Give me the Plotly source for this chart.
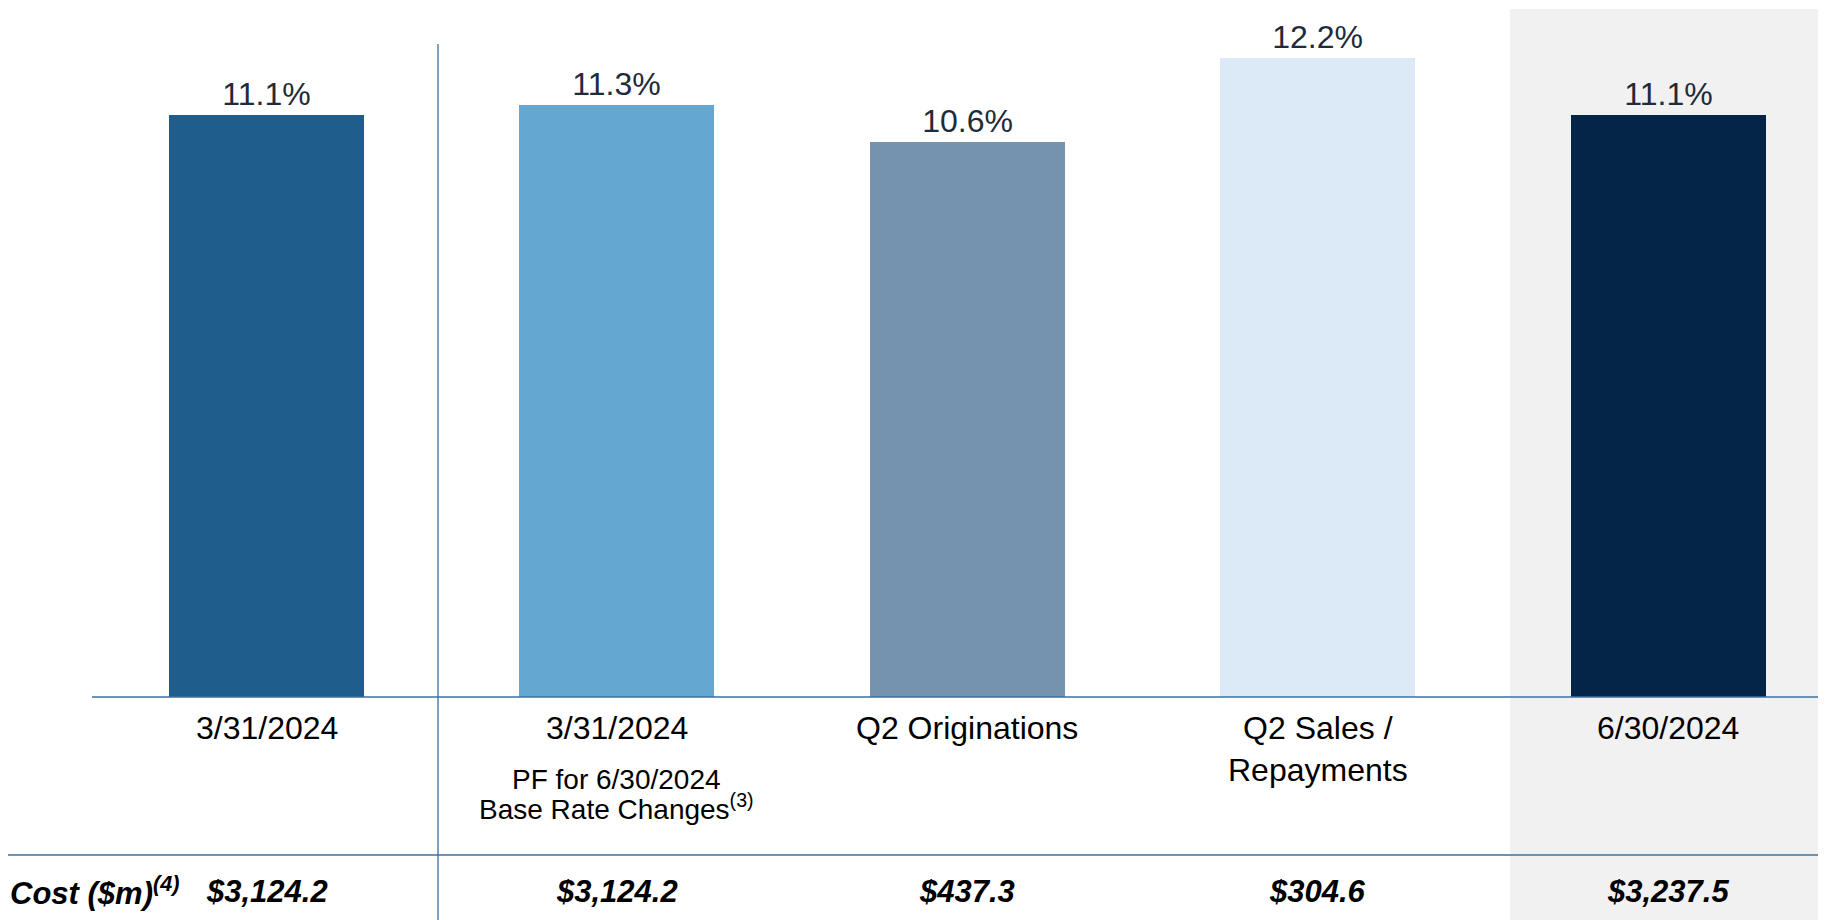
import plotly.graph_objects as go

# ---- data ----
categories = ["3/31/2024", "3/31/2024", "Q2 Originations", "Q2 Sales /<br>Repayments", "6/30/2024"]
yield_pct = [11.1, 11.3, 10.6, 12.2, 11.1]
bar_colors = ["#1F5D8C", "#64A8D1", "#7593AF", "#DCEAF8", "#042448"]
cost_labels = ["$3,124.2", "$3,124.2", "$437.3", "$304.6", "$3,237.5"]
subtitle_lines = ["PF for 6/30/2024", "Base Rate Changes<sup>(3)</sup>"]
cost_title = "Cost ($m)<sup>(4)</sup>"

OFF = 8  # page body margin
W, H = 1826 - OFF, 920 - OFF
FONT = "Arial, 'Liberation Sans', sans-serif"
LINE = "#3D6F9F"

x_idx = list(range(len(categories)))

fig = go.Figure()
fig.add_trace(go.Bar(
    x=x_idx, y=yield_pct,
    marker=dict(color=bar_colors, line=dict(width=0)),
    width=0.556,
    text=[f"{v:.1f}%" for v in yield_pct],
    textposition="outside",
    textfont=dict(family=FONT, size=32, color="#1E2B3A"),
    cliponaxis=False,
    hoverinfo="skip",
))

annotations = []
for i, c in enumerate(categories):
    annotations.append(dict(
        x=i, y=0, xref="x", yref="y", text=c, showarrow=False,
        xanchor="center", yanchor="top", yshift=-11,
        font=dict(family=FONT, size=32, color="#000000"),
    ))
for j, line in enumerate(subtitle_lines):
    annotations.append(dict(
        x=1, y=0, xref="x", yref="y", text=line, showarrow=False,
        xanchor="center", yanchor="middle", yshift=-(82 + 28 * j),
        font=dict(family=FONT, size=28, color="#000000"),
    ))
for i, c in enumerate(cost_labels):
    annotations.append(dict(
        x=i, y=0, xref="x", yref="y", text=f"<b><i>{c}</i></b>", showarrow=False,
        xanchor="center", yanchor="middle", yshift=-194,
        font=dict(family=FONT, size=31, color="#000000"),
    ))
annotations.append(dict(
    x=0, y=0, xref="paper", yref="y", text=f"<b><i>{cost_title}</i></b>", showarrow=False,
    xanchor="left", yanchor="middle", yshift=-194,
    font=dict(family=FONT, size=31, color="#000000"),
))

plot_h = 697 - OFF
def px_to_paper_y(py):
    return (plot_h - (py - OFF)) / plot_h
def px_to_paper_x(px):
    return (px - OFF) / W

shapes = [
    dict(type="rect", xref="paper", yref="paper", x0=px_to_paper_x(1510), x1=1.0,
         y0=px_to_paper_y(925), y1=px_to_paper_y(9),
         fillcolor="#F1F1F1", line=dict(width=0), layer="below"),
    dict(type="line", xref="paper", yref="paper", x0=px_to_paper_x(92), x1=1.0,
         y0=px_to_paper_y(697), y1=px_to_paper_y(697),
         line=dict(color=LINE, width=1.6)),
    dict(type="line", xref="paper", yref="paper", x0=0, x1=1.0,
         y0=px_to_paper_y(855), y1=px_to_paper_y(855),
         line=dict(color=LINE, width=1.6)),
    dict(type="line", xref="paper", yref="paper", x0=px_to_paper_x(438), x1=px_to_paper_x(438),
         y0=px_to_paper_y(925), y1=px_to_paper_y(44),
         line=dict(color=LINE, width=1.3)),
]

px_per_cat = 350.4
x_left = -(266.5 - OFF) / px_per_cat
x_right = x_left + W / px_per_cat

fig.update_layout(
    width=W, height=H,
    margin=dict(l=0, r=0, t=0, b=H - plot_h, pad=0),
    paper_bgcolor="white", plot_bgcolor="rgba(0,0,0,0)",
    showlegend=False,
    xaxis=dict(range=[x_left, x_right], showticklabels=False, showgrid=False,
               zeroline=False, showline=False, ticks=""),
    yaxis=dict(range=[0, plot_h / 52.4], showticklabels=False, showgrid=False,
               zeroline=False, showline=False, ticks=""),
    annotations=annotations,
    shapes=shapes,
    bargap=0,
)

fig.write_html("out.html")
